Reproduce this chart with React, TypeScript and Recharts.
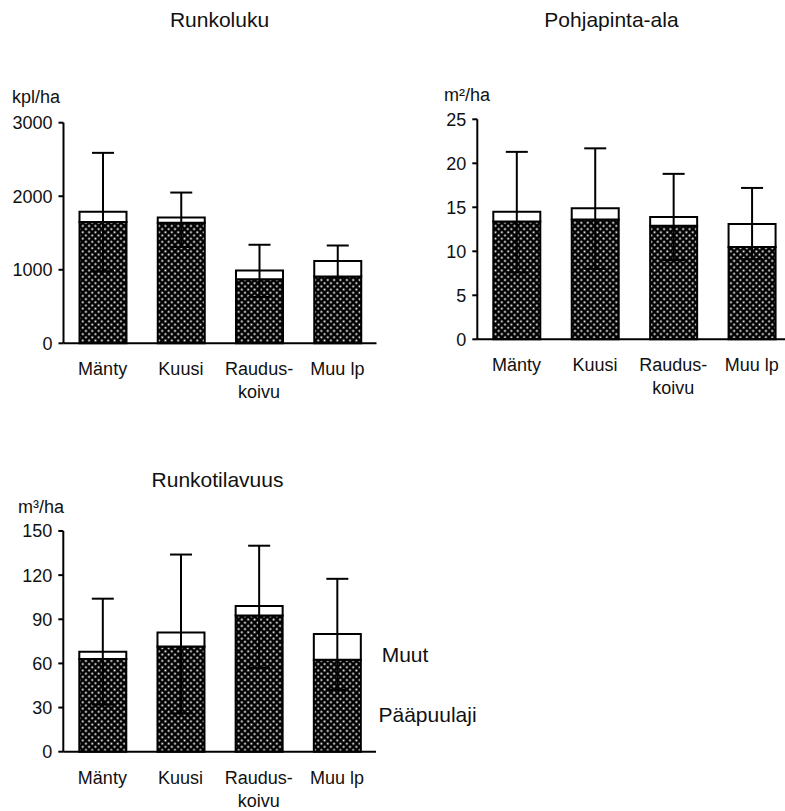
import React from "react";
import { BarChart, Bar, XAxis, YAxis, ErrorBar } from "recharts";

const categories = ["Mänty", "Kuusi", "Raudus-\nkoivu", "Muu lp"];

// Runkoluku, kpl/ha
const stemTotal = [1790, 1710, 990, 1120];
const stemMain = [1650, 1640, 870, 910];
const stemLow = [980, 1310, 630, 900];
const stemHigh = [2590, 2050, 1340, 1330];
const stemTicks = [0, 1000, 2000, 3000];

// Pohjapinta-ala, m2/ha
const basalTotal = [14.5, 14.9, 13.9, 13.1];
const basalMain = [13.4, 13.6, 12.9, 10.5];
const basalLow = [7.6, 8.0, 9.0, 9.1];
const basalHigh = [21.3, 21.7, 18.8, 17.2];
const basalTicks = [0, 5, 10, 15, 20, 25];

// Runkotilavuus, m3/ha
const volTotal = [68, 81, 99, 80];
const volMain = [63, 71.5, 92.5, 62.5];
const volLow = [32, 26, 57, 42];
const volHigh = [104, 134, 140, 117.5];
const volTicks = [0, 30, 60, 90, 120, 150];

const FONT = "'Liberation Sans', Arial, Helvetica, sans-serif";
const INK = "#111";

function buildRows(total: number[], main: number[], low: number[], high: number[]) {
  return categories.map((name, i) => ({
    name,
    main: main[i],
    muut: +(total[i] - main[i]).toFixed(3),
    err: [+(total[i] - low[i]).toFixed(3), +(high[i] - total[i]).toFixed(3)],
  }));
}

function CatTick(props: any) {
  const { x, y, payload } = props;
  const lines = String(payload.value).split("\n");
  return (
    <g>
      {lines.map((l, i) => (
        <text key={i} x={x} y={y + 32 + i * 23} textAnchor="middle" fontSize={18} fill={INK} fontFamily={FONT}>
          {l}
        </text>
      ))}
    </g>
  );
}

type PanelProps = {
  id: string;
  rows: any[];
  ticks: number[];
  width: number;
  height: number;
  margin: { top: number; right: number; bottom: number; left: number };
  yWidth: number;
  xHeight: number;
};

function Panel({ id, rows, ticks, width, height, margin, yWidth, xHeight }: PanelProps) {
  const max = ticks[ticks.length - 1];
  return (
    <BarChart width={width} height={height} data={rows} margin={margin} barSize={47}>
      <defs>
        <pattern id={id} patternUnits="userSpaceOnUse" width={4.5} height={4.5} patternTransform="rotate(45)">
          <rect width={4.5} height={4.5} fill="#000" />
          <rect x={1.35} y={1.35} width={1.8} height={1.8} fill="#fff" />
        </pattern>
      </defs>
      <XAxis
        dataKey="name"
        height={xHeight}
        tickLine={false}
        tickSize={0}
        tickMargin={0}
        interval={0}
        stroke="#000"
        strokeWidth={2}
        tick={<CatTick />}
      />
      <YAxis
        width={yWidth}
        domain={[0, max]}
        ticks={ticks}
        interval={0}
        tickSize={5}
        tickMargin={6}
        stroke="#000"
        strokeWidth={2}
        tick={{ fontSize: 18, fill: INK, fontFamily: FONT }}
      />
      <Bar dataKey="main" stackId="a" fill={`url(#${id})`} stroke="#000" strokeWidth={2} isAnimationActive={false} />
      <Bar dataKey="muut" stackId="a" fill="#fff" stroke="#000" strokeWidth={2} isAnimationActive={false}>
        <ErrorBar dataKey="err" width={11} stroke="#000" strokeWidth={2} direction="y" />
      </Bar>
    </BarChart>
  );
}

export default function App() {
  const stemRows = buildRows(stemTotal, stemMain, stemLow, stemHigh);
  const basalRows = buildRows(basalTotal, basalMain, basalLow, basalHigh);
  const volRows = buildRows(volTotal, volMain, volLow, volHigh);

  return (
    <div
      style={{
        position: "absolute",
        left: 0,
        top: 0,
        width: 785,
        height: 811,
        overflow: "hidden",
        background: "#fff",
        fontFamily: FONT,
      }}
    >
      <div style={{ position: "absolute", left: 0, top: 0 }}>
        <Panel
          id="hatch1"
          rows={stemRows}
          ticks={stemTicks}
          width={400}
          height={420}
          margin={{ top: 122.7, right: 23.5, bottom: 16.7, left: 0 }}
          yWidth={63.5}
          xHeight={60}
        />
      </div>
      <div style={{ position: "absolute", left: 400, top: 0 }}>
        <Panel
          id="hatch2"
          rows={basalRows}
          ticks={basalTicks}
          width={400}
          height={420}
          margin={{ top: 119.3, right: 9, bottom: 20.7, left: 0 }}
          yWidth={77.3}
          xHeight={60}
        />
      </div>
      <div style={{ position: "absolute", left: 0, top: 400 }}>
        <Panel
          id="hatch3"
          rows={volRows}
          ticks={volTicks}
          width={400}
          height={411}
          margin={{ top: 131, right: 24, bottom: 9.3, left: 0 }}
          yWidth={63.3}
          xHeight={50}
        />
      </div>
      <svg
        width={785}
        height={811}
        style={{ position: "absolute", left: 0, top: 0, pointerEvents: "none" }}
        fontFamily={FONT}
        fill={INK}
      >
        <text x={219.5} y={27.3} fontSize={21} textAnchor="middle">Runkoluku</text>
        <text x={611.5} y={26.7} fontSize={21} textAnchor="middle">Pohjapinta-ala</text>
        <text x={217.5} y={486.7} fontSize={21} textAnchor="middle">Runkotilavuus</text>
        <text x={12} y={103} fontSize={18}>kpl/ha</text>
        <text x={444} y={101} fontSize={18}>m²/ha</text>
        <text x={18} y={513.3} fontSize={18}>m³/ha</text>
        <text x={381.7} y={661.7} fontSize={21}>Muut</text>
        <text x={378.5} y={721.7} fontSize={21}>Pääpuulaji</text>
      </svg>
    </div>
  );
}
